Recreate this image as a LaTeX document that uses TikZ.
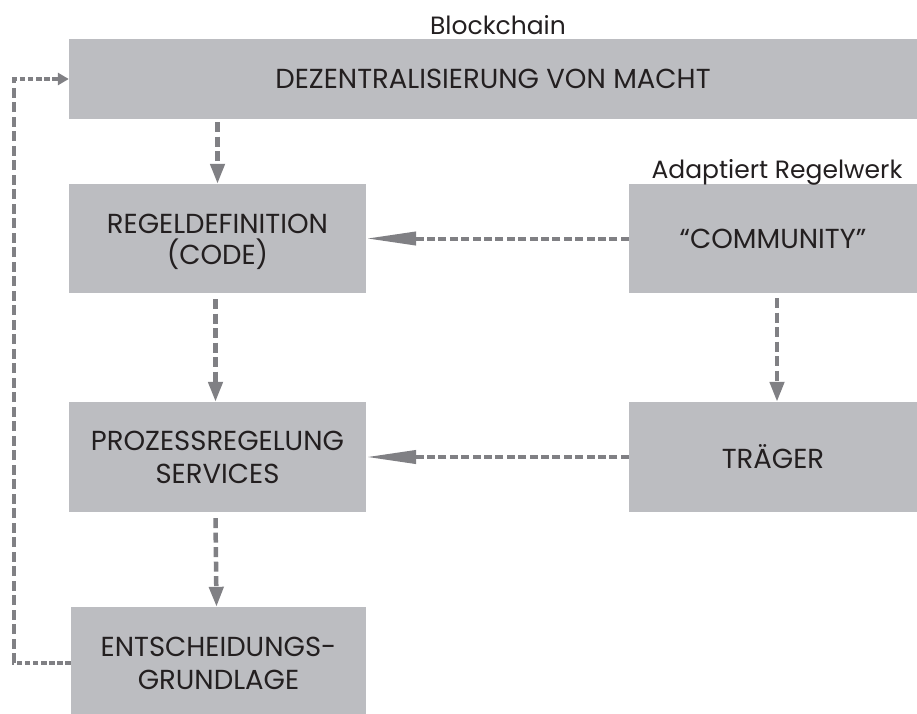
\documentclass[tikz,border=0pt]{standalone}
\usepackage{fontspec}
\setmainfont{Poppins}
\usetikzlibrary{arrows.meta}
\definecolor{boxgray}{RGB}{188,189,193}
\definecolor{linegray}{RGB}{128,128,132}
\definecolor{inkdark}{RGB}{35,31,32}
\begin{document}
\begin{tikzpicture}[x=1pt,y=-1pt,
  box/.style={fill=boxgray, draw=none, inner sep=0pt, align=center,
    text=inkdark, font=\fontsize{27.5}{33}\selectfont},
  boxtext/.style={inner sep=0pt, align=center, text=inkdark,
    font=\fontsize{27.5}{31}\selectfont},
  lbl/.style={text=inkdark, inner sep=0pt, font=\fontsize{25}{30}\selectfont},
  vflow/.style={draw=linegray, line width=4.5pt, dash pattern=on 10pt off 4.5pt},
  hflow/.style={draw=linegray, line width=4pt, dash pattern=on 8pt off 3.4pt},
  shortflow/.style={draw=linegray, line width=4.5pt, dash pattern=on 5.5pt off 2.6pt},
  tipdown/.style={-{Triangle[length=20pt,width=14pt]}},
  tipside/.style={-{Triangle[length=50pt,width=13pt]}},
  tipsmall/.style={-{Triangle[length=11pt,width=12pt]}}
]
\useasboundingbox (0,0) rectangle (917,713);

% boxes
\node[box, minimum width=848pt, minimum height=80pt] (macht) at (493,79)
  {DEZENTRALISIERUNG VON MACHT};
\node[box, minimum width=297pt, minimum height=109pt] (regel) at (217.5,238.5) {};
\node[boxtext] (regeltext) at ([yshift=-3pt]regel.center)
  {REGELDEFINITION\\(CODE)};
\node[box, minimum width=288pt, minimum height=109pt] (comm) at (773,238.5)
  {``COMMUNITY''};
\node[box, minimum width=297pt, minimum height=110pt] (prozess) at (217.5,457)
  {PROZESSREGELUNG\\SERVICES};
\node[box, minimum width=288pt, minimum height=110pt] (traeger) at (773,457)
  {TRÄGER};
\node[box, minimum width=295pt, minimum height=112pt] (entsch) at (218.5,663)
  {ENTSCHEIDUNGS-\\GRUNDLAGE};

% labels above boxes
\node[lbl, anchor=base] (blk) at (498,34) {Blockchain};
\node[lbl, anchor=base] (adapt) at (777,178) {Adaptiert Regelwerk};

% vertical connectors
\draw[vflow, tipdown] ([yshift=-3pt]macht.south -| regel.north) -- (regel.north);
\draw[vflow, tipdown] ([xshift=-2pt,yshift=-6pt]regel.south) -- ([xshift=-2pt]prozess.north);
\draw[vflow, tipdown] ([xshift=-2pt,yshift=-6pt]prozess.south) -- ([xshift=-2pt]entsch.north);
\draw[vflow, tipdown] ([xshift=4pt,yshift=-5pt]comm.south) -- ([xshift=4pt]traeger.north);

% horizontal connectors
\draw[hflow, tipside] (comm.west) -- (regel.east);
\draw[hflow, tipside] (traeger.west) -- (prozess.east);

% feedback loop
\coordinate (loopbot) at (14,663);
\coordinate (looptop) at (loopbot |- macht.west);
\draw[shortflow] (entsch.west) -- ([xshift=-2.25pt]loopbot);
\draw[vflow] (loopbot) -- (looptop);
\draw[shortflow, tipsmall] ([xshift=-2.25pt]looptop) -- (macht.west);
\end{tikzpicture}
\end{document}
